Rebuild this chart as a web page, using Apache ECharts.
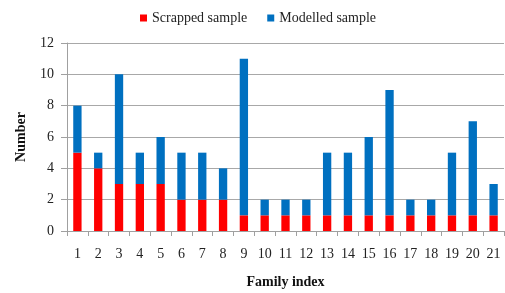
<!DOCTYPE html>
<html><head><meta charset="utf-8">
<script src="https://cdn.jsdelivr.net/npm/echarts@6/dist/echarts.min.js"></script>
<style>html,body{margin:0;padding:0;background:#fff}#c{width:505px;height:293px}</style>
</head><body><div id="c"></div>
<script>
const categories = ['1','2','3','4','5','6','7','8','9','10','11','12','13','14','15','16','17','18','19','20','21'];
const scrapped = [5,4,3,3,3,2,2,2,1,1,1,1,1,1,1,1,1,1,1,1,1];
const modelled = [3,1,7,2,3,3,3,2,10,1,1,1,4,4,5,8,1,1,4,6,2];
const yTicks = [0,2,4,6,8,10,12];
const font = 'Liberation Serif, Times New Roman, serif';
const chart = echarts.init(document.getElementById('c'));
chart.setOption({
  animation:false,
  textStyle:{fontFamily:font},
  legend:{top:6,left:135,itemWidth:7,itemHeight:7,itemGap:20,icon:'rect',
    textStyle:{fontFamily:font,fontSize:14,color:'#222'},
    data:['Scrapped sample','Modelled sample']},
  grid:{left:67,right:1,top:43,bottom:62,containLabel:false,outerBoundsMode:'none'},
  xAxis:{type:'category',data:categories,
    name:'Family index',nameLocation:'middle',nameGap:44,
    nameTextStyle:{fontFamily:font,fontWeight:'bold',fontSize:14,color:'#111'},
    axisLine:{lineStyle:{color:'#a0a0a0'}},
    axisTick:{show:true,length:5,lineStyle:{color:'#a0a0a0'}},
    axisLabel:{fontFamily:font,fontSize:14,color:'#222',margin:16,interval:0}},
  yAxis:{type:'value',min:0,max:12,interval:2,
    name:'Number',nameLocation:'middle',nameGap:39,
    nameTextStyle:{fontFamily:font,fontWeight:'bold',fontSize:14,color:'#111'},
    axisLine:{show:true,lineStyle:{color:'#a0a0a0'}},
    axisTick:{show:true,length:6,lineStyle:{color:'#a0a0a0'}},
    splitLine:{lineStyle:{color:'#a8a8a8'}},
    axisLabel:{fontFamily:font,fontSize:14,color:'#222',margin:13,
      formatter:v=>yTicks.includes(v)?String(v):''}},
  series:[
    {name:'Scrapped sample',type:'bar',stack:'a',data:scrapped,barWidth:'40%',
      itemStyle:{color:'#ff0000'}},
    {name:'Modelled sample',type:'bar',stack:'a',data:modelled,barWidth:'40%',
      itemStyle:{color:'#0070c0'}}
  ]
});
</script></body></html>
